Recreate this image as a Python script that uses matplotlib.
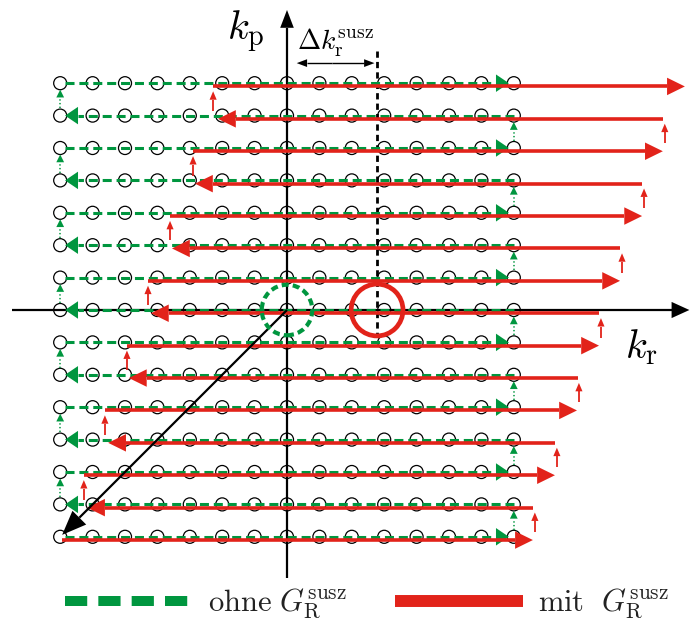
import numpy as np
import matplotlib.pyplot as plt
from matplotlib.patches import Circle

plt.rcParams['mathtext.fontset'] = 'cm'
plt.rcParams['lines.scale_dashes'] = False

GRUEN = '#00963f'
ROT = '#e2231a'

# Gitterpunkte in Einheiten des Abtastabstands
kr_gitter = [-7, -6, -5, -4, -3, -2, -1, 0, 1, 2, 3, 4, 5, 6, 7]
kp_gitter = [-7, -6, -5, -4, -3, -2, -1, 0, 1, 2, 3, 4, 5, 6, 7]

# Durchlaufrichtung je Zeile (von unten nach oben)
richtung = ['r', 'l', 'r', 'l', 'r', 'l', 'r', 'l', 'r', 'l', 'r', 'l', 'r', 'l', 'r']

# Zeilen mit G_R^susz: linkes und rechtes Ende
rot_links = [-6.94, -6.17, -6.27, -5.52, -5.62, -4.88, -4.94, -4.20,
             -4.29, -3.55, -3.61, -2.84, -2.90, -2.13, -2.28]
rot_rechts = [7.59, 7.59, 8.27, 8.27, 8.95, 8.98, 9.63, 9.63,
              10.28, 10.28, 10.96, 10.96, 11.60, 11.60, 12.28]

delta_kr = 2.78


def pfeil(ax, x0, y0, x1, y1, farbe, lw, kl, kb, z=3, **kw):
    dx, dy = x1 - x0, y1 - y0
    L = np.hypot(dx, dy)
    ux, uy = dx / L, dy / L
    bx, by = x1 - ux * kl, y1 - uy * kl
    ax.plot([x0, bx], [y0, by], color=farbe, lw=lw, zorder=z,
            solid_capstyle='butt', dash_capstyle='butt', **kw)
    nx, ny = -uy * kb / 2, ux * kb / 2
    ax.fill([x1, bx + nx, bx - nx], [y1, by + ny, by - ny],
            color=farbe, lw=0, zorder=z)


fig = plt.figure(figsize=(6.91, 6.32), dpi=100)
ax = fig.add_axes([0, 0, 1, 1])
px = 32.4
ax.set_xlim(-287 / px, (691 - 287) / px)
ax.set_ylim(-(632 - 310) / px, 310 / px)
ax.axis('off')

# Achsen
pfeil(ax, 0, -8.28, 0, 9.26, 'k', 1.6, 0.55, 0.42, z=1)
pfeil(ax, -8.49, 0, 12.42, 0, 'k', 1.6, 0.55, 0.5, z=1)
ax.plot([delta_kr, delta_kr], [8.0, -0.77], color='k', lw=2.0,
        dashes=(4.5, 3), zorder=1)

# Gitter
X, Y = np.meshgrid(kr_gitter, kp_gitter)
ax.scatter(X.ravel(), Y.ravel(), s=88, facecolors='none',
           edgecolors='k', linewidths=0.9, zorder=2)

# ohne G: Maeander ueber das ganze Gitter
for k, (j, r) in enumerate(zip(kp_gitter, richtung)):
    if r == 'r':
        pfeil(ax, -6.85, j, 6.85, j, GRUEN, 2.2, 0.4, 0.54, dashes=(6.5, 3.5))
        xs = kr_gitter[-1]
    else:
        pfeil(ax, 7, j, -6.85, j, GRUEN, 2.2, 0.4, 0.54, dashes=(6.5, 3.5))
        xs = kr_gitter[0]
    if k < len(kp_gitter) - 1:
        pfeil(ax, xs, j + 0.22, xs, kp_gitter[k + 1] - 0.2, GRUEN, 1.1,
              0.24, 0.24, ls=':')

# mit G: verschobene Zeilen
for k, (j, r) in enumerate(zip(kp_gitter, richtung)):
    yr = j - 0.1
    if r == 'r':
        pfeil(ax, rot_links[k], yr, rot_rechts[k], yr, ROT, 2.6, 0.55, 0.54, z=4)
        xs = rot_rechts[k] + 0.06
    else:
        pfeil(ax, rot_rechts[k], yr, rot_links[k], yr, ROT, 2.6, 0.55, 0.54, z=4)
        xs = rot_links[k + 1] if k < len(kp_gitter) - 1 else rot_links[k]
    if k < len(kp_gitter) - 1:
        pfeil(ax, xs, j + 0.15, xs, j + 0.75, ROT, 1.3, 0.26, 0.22, z=4)

# Startsprung in die Ecke
pfeil(ax, 0, 0, kr_gitter[0] + 0.06, kp_gitter[0] + 0.06, 'k', 1.6, 0.75, 0.6, z=5)

# Kreise um Ursprung bzw. verschobenen Ursprung
ax.add_patch(Circle((0, 0), 0.78, fill=False, ec=GRUEN, lw=3.0,
                    ls=(0, (5, 3)), zorder=6))
ax.add_patch(Circle((delta_kr, 0), 0.8, fill=False, ec=ROT, lw=3.4, zorder=6))

# Delta k
ym = 7.62
pfeil(ax, delta_kr / 2, ym, 0.3, ym, 'k', 1.0, 0.32, 0.24, z=5)
pfeil(ax, delta_kr / 2, ym, delta_kr - 0.08, ym, 'k', 1.0, 0.32, 0.24, z=5)
ax.text(0.3, 8.02, r'$\Delta k_\mathrm{r}^\mathrm{susz}$', fontsize=20,
        ha='left', va='baseline')

ax.text(-1.85, 8.33, r'$k_\mathrm{p}$', fontsize=29, ha='left', va='baseline')
ax.text(10.42, -1.48, r'$k_\mathrm{r}$', fontsize=29, ha='left', va='baseline')

# Legende
ax.plot([-6.85, -2.9], [-8.98, -8.98], color=GRUEN, lw=7.2,
        dashes=(16, 8), dash_capstyle='butt')
ax.plot([3.33, 7.28], [-8.98, -8.98], color=ROT, lw=8.6, solid_capstyle='butt')
ax.text(-2.44, -9.29, r'$\mathrm{ohne}\ G_\mathrm{R}^\mathrm{susz}$',
        fontsize=22, ha='left', va='baseline', color='#222222')
ax.text(7.75, -9.29, r'$\mathrm{mit}\ \ G_\mathrm{R}^\mathrm{susz}$',
        fontsize=22, ha='left', va='baseline', color='#222222')

fig.savefig('out.png', dpi=100)
